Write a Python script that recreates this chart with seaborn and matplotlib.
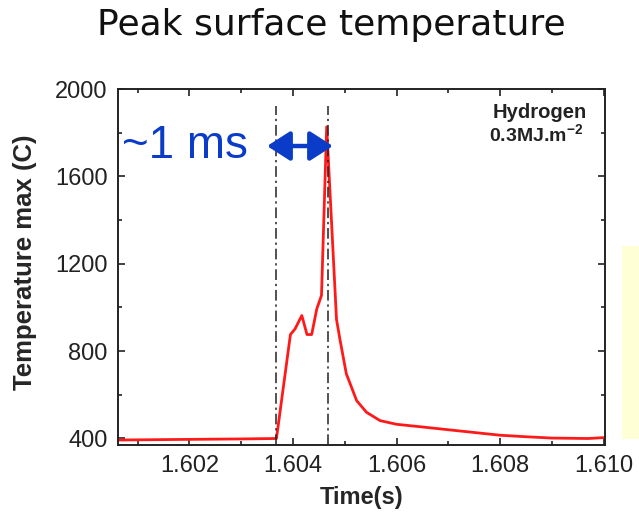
import matplotlib
matplotlib.use("Agg")
import matplotlib.pyplot as plt
from matplotlib.ticker import MultipleLocator, FormatStrFormatter
from matplotlib.patches import Rectangle
import seaborn as sns
import pandas as pd

# Peak surface temperature trace (hydrogen, 0.3 MJ/m^2 pulse)
time_s = [1.6006, 1.6020, 1.6030, 1.60368, 1.60395, 1.60404, 1.60417, 1.60427,
          1.60436, 1.60446, 1.60455, 1.60465, 1.60484, 1.60491, 1.60503, 1.60523,
          1.60542, 1.60568, 1.60600, 1.60645, 1.6070, 1.6080, 1.6085, 1.6090,
          1.6097, 1.6100]
temp_max = [393, 396, 398, 400, 876, 902, 963, 876,
            876, 994, 1055, 1827, 945, 849, 696, 573,
            520, 482, 465, 454, 440, 415, 408, 402,
            400, 404]

# Start of the pulse and time of the peak
markers_s = [1.60368, 1.60467]

x_ticks = [1.602, 1.604, 1.606, 1.608, 1.610]
y_ticks = [400, 800, 1200, 1600, 2000]

df = pd.DataFrame({"Time(s)": time_s, "Temperature max (C)": temp_max})

sns.set_style("ticks")
plt.rcParams["font.family"] = ["Liberation Sans", "DejaVu Sans"]
plt.rcParams["mathtext.fontset"] = "custom"
plt.rcParams["mathtext.bf"] = "Liberation Sans:bold"
plt.rcParams["mathtext.rm"] = "Liberation Sans"

fig = plt.figure(figsize=(6.39, 5.13), dpi=100)
ax = fig.add_axes([0.1839, 0.1316, 0.7624, 0.6949])

sns.lineplot(data=df, x="Time(s)", y="Temperature max (C)", ax=ax,
             color="#ff1a1a", lw=2.0, estimator=None, sort=False)

ax.vlines(markers_s, 368, 1920, colors="#222222", lw=1.1,
          linestyles=[(0, (7, 2.5, 1.5, 2.5))])

ax.set_xlim(1.60061, 1.61002)
ax.set_ylim(368, 2000)
ax.set_xticks(x_ticks)
ax.set_yticks(y_ticks)
ax.xaxis.set_minor_locator(MultipleLocator(0.001))
ax.yaxis.set_minor_locator(MultipleLocator(200))
ax.xaxis.set_major_formatter(FormatStrFormatter("%.3f"))
ax.tick_params(which="both", direction="in", top=True, right=True,
               width=1.2, colors="#222222", labelcolor="#222222")
ax.tick_params(which="major", length=5, labelsize=17, pad=7)
ax.tick_params(which="minor", length=3)
for s in ax.spines.values():
    s.set_linewidth(1.4)
    s.set_color("#222222")

ax.set_xlabel("Time(s)", fontsize=17, fontweight="bold", labelpad=6)
ax.set_ylabel("Temperature max (C)", fontsize=18.5, fontweight="bold",
              labelpad=6)
ax.yaxis.set_label_coords(-0.165, 0.515)

ax.text(0.9637, 0.918, "Hydrogen", transform=ax.transAxes, ha="right",
        va="baseline", fontsize=14.5, fontweight="bold", color="#222222")
ax.text(0.955, 0.852, r"0.3MJ.m$^{\mathbf{-2}}$", transform=ax.transAxes,
        ha="right", va="baseline", fontsize=14, fontweight="bold",
        color="#222222")

# Duration annotation
blue = "#0b3cc8"
ax.annotate("", xy=(1.60477, 1739), xytext=(1.60350, 1739),
            arrowprops=dict(arrowstyle="<|-|>,head_length=0.7,head_width=0.45",
                            color=blue, lw=3.2, shrinkA=0, shrinkB=0,
                            mutation_scale=20))
ax.text(1.60069, 1739, "~1 ms", color=blue, fontsize=33, ha="left",
        va="center")

fig.text(331 / 639, 1 - 35 / 513, "Peak surface temperature",
         family="DejaVu Sans", fontsize=26, ha="center", va="baseline",
         color="#111111")

fig.patches.append(Rectangle((622 / 639, 1 - 439 / 513), 17 / 639, 193 / 513,
                             transform=fig.transFigure, facecolor="#ffffd6",
                             edgecolor="none"))

fig.savefig("out.png", dpi=100, facecolor="white")
